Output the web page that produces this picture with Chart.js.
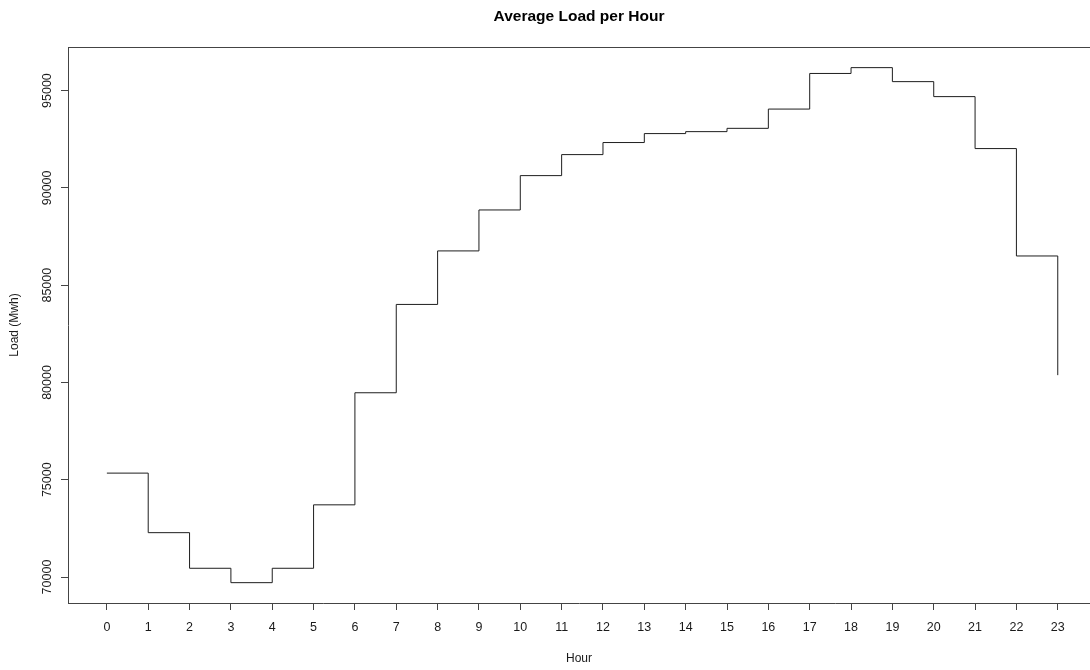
<!DOCTYPE html>
<html>
<head>
<meta charset="utf-8">
<script src="https://cdn.jsdelivr.net/npm/chart.js@4.4.0/dist/chart.umd.min.js"></script>
<style>
  html, body { margin: 0; padding: 0; background: #ffffff; }
  #wrap { width: 1090px; height: 670px; position: relative; }
</style>
</head>
<body>
<div id="wrap"><canvas id="c" width="1090" height="670"></canvas></div>
<script>
const chartTitle = "Average Load per Hour";
const xTitle = "Hour";
const yTitle = "Load (Mwh)";
const hours = [0,1,2,3,4,5,6,7,8,9,10,11,12,13,14,15,16,17,18,19,20,21,22,23];
const avgLoad = [75340, 72280, 70450, 69710, 70450, 73710, 79470, 84010, 86760, 88865,
                 90630, 91710, 92330, 92790, 92890, 93060, 94050, 95880, 96180, 95460,
                 94690, 92020, 86500, 80375];
const yTickValues = [70000, 75000, 80000, 85000, 90000, 95000];

const FONT = "'Liberation Sans', Arial, sans-serif";
const AXIS_COLOR = '#444';
const TEXT_COLOR = '#1a1a1a';

const points = hours.map((h, i) => ({ x: h, y: avgLoad[i] }));

const boxTop = {
  id: 'boxTop',
  afterDraw(chart) {
    const a = chart.chartArea;
    const ctx = chart.ctx;
    ctx.save();
    ctx.strokeStyle = AXIS_COLOR;
    ctx.lineWidth = 1;
    ctx.beginPath();
    const y = Math.round(a.top) + 0.5;
    ctx.moveTo(a.left, y);
    ctx.lineTo(chart.width, y);
    ctx.stroke();
    ctx.restore();
  }
};

new Chart(document.getElementById('c'), {
  type: 'line',
  data: {
    datasets: [{
      data: points,
      borderColor: '#1e1e1e',
      borderWidth: 1,
      pointRadius: 0,
      stepped: 'before',
      fill: false,
      tension: 0
    }]
  },
  options: {
    responsive: false,
    animation: false,
    events: [],
    layout: { padding: { top: 0, left: 0, right: 0, bottom: 0 } },
    plugins: {
      legend: { display: false },
      tooltip: { enabled: false },
      title: {
        display: true,
        text: chartTitle,
        fullSize: false,
        color: '#000',
        font: { family: FONT, size: 15.5, weight: 'bold', lineHeight: 1.2 },
        padding: { top: 7.6, bottom: 20.8 }
      }
    },
    scales: {
      x: {
        type: 'linear',
        min: -0.94,
        max: 23.78,
        afterFit(s) { s.height = 67; },
        afterBuildTicks(s) { s.ticks = hours.map(v => ({ value: v })); },
        grid: { drawOnChartArea: false, tickLength: 7, color: AXIS_COLOR, lineWidth: 1 },
        border: { display: true, color: AXIS_COLOR, width: 1 },
        ticks: {
          autoSkip: false,
          maxRotation: 0,
          minRotation: 0,
          padding: 10,
          color: TEXT_COLOR,
          font: { family: FONT, size: 12.5 },
          callback: (v) => String(v)
        },
        title: {
          display: true,
          text: xTitle,
          color: TEXT_COLOR,
          font: { family: FONT, size: 12, lineHeight: 1.2 },
          padding: { top: 0, bottom: 4.3 }
        }
      },
      y: {
        type: 'linear',
        min: 68665,
        max: 97240,
        afterFit(s) { s.width = 68; },
        afterBuildTicks(s) { s.ticks = yTickValues.map(v => ({ value: v })); },
        grid: { drawOnChartArea: false, tickLength: 7, color: AXIS_COLOR, lineWidth: 1 },
        border: { display: true, color: AXIS_COLOR, width: 1 },
        ticks: {
          autoSkip: false,
          minRotation: 90,
          maxRotation: 90,
          crossAlign: 'center',
          padding: -4,
          color: TEXT_COLOR,
          font: { family: FONT, size: 12.5 },
          callback: (v) => String(v)
        },
        title: {
          display: true,
          text: yTitle,
          color: TEXT_COLOR,
          font: { family: FONT, size: 12, lineHeight: 1.2 },
          padding: { top: 7, bottom: 0 }
        }
      }
    }
  },
  plugins: [boxTop]
});
</script>
</body>
</html>
